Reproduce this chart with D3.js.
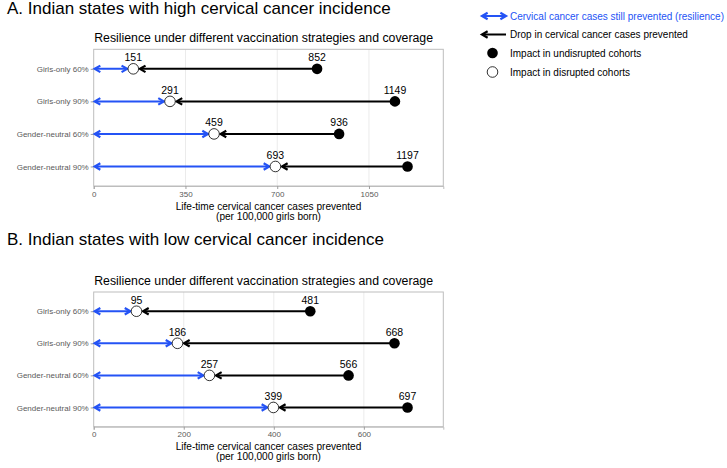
<!DOCTYPE html>
<html><head><meta charset="utf-8">
<script src="https://cdn.jsdelivr.net/npm/d3@7"></script>
<style>body{margin:0;background:#fff;} svg{display:block;font-family:"Liberation Sans",Arial,Helvetica,sans-serif;}</style>
</head><body>
<script>
const strategies = ["Girls-only 60%","Girls-only 90%","Gender-neutral 60%","Gender-neutral 90%"];
const highUndisrupted = [852,1149,936,1197];
const highDisrupted = [151,291,459,693];
const lowUndisrupted = [481,668,566,697];
const lowDisrupted = [95,186,257,399];
const highTicks = [0,350,700,1050];
const lowTicks = [0,200,400,600];
const panelTitles = ["A. Indian states with high cervical cancer incidence","B. Indian states with low cervical cancer incidence"];
const subtitle = "Resilience under different vaccination strategies and coverage";
const xTitle = ["Life-time cervical cancer cases prevented","(per 100,000 girls born)"];
const legendLabels = ["Cervical cancer cases still prevented (resilience)","Drop in cervical cancer cases prevented","Impact in undisrupted cohorts","Impact in disrupted cohorts"];

const W=727,H=468, BLUE="#2453f5";
const svg=d3.select("body").append("svg").attr("width",W).attr("height",H);

function chevron(g, tipX, y, dir, color){ // dir: -1 points left, +1 points right
  const L=6.5, a=Math.PI/6;
  const dx=-dir*L*Math.cos(a), dy=L*Math.sin(a);
  g.append("path").attr("d",`M${tipX+dx},${y-dy}L${tipX},${y}L${tipX+dx},${y+dy}`)
   .attr("fill","none").attr("stroke",color).attr("stroke-width",2.2).attr("stroke-linejoin","miter");
}

function panel(titleY, pt, pb, title, und, dis, ticks){
  const g=svg.append("g");
  g.append("text").attr("x",7).attr("y",titleY).attr("font-size",17).attr("fill","#000").text(title);
  const pl=93.7, pr=443.3;
  g.append("text").attr("x",pl+0.5).attr("y",pt-7.5).attr("font-size",12.3).attr("fill","#000").text(subtitle);
  const x=d3.scaleLinear().domain([0,d3.max(und)*1.114]).range([pl,pr]);
  const y=d3.scalePoint().domain(strategies).range([pt,pb]).padding(0.6);
  // grid
  g.append("g").selectAll("line").data(ticks.slice(1)).join("line")
   .attr("x1",d=>x(d)).attr("x2",d=>x(d)).attr("y1",pt).attr("y2",pb)
   .attr("stroke","#ebebeb").attr("stroke-width",1);
  g.append("rect").attr("x",pl).attr("y",pt).attr("width",pr-pl).attr("height",pb-pt)
   .attr("fill","none").attr("stroke","#bdbdbd").attr("stroke-width",1);
  // axes
  const xa=g.append("g").attr("transform",`translate(0,${pb})`)
    .call(d3.axisBottom(x).tickValues(ticks).tickFormat(d3.format("d")).tickSize(3).tickPadding(2));
  xa.select(".domain").attr("stroke","#bdbdbd");
  xa.selectAll(".tick line").attr("stroke","#9e9e9e");
  xa.selectAll("text").attr("font-size",8).attr("fill","#5a5a5a").attr("font-family","Liberation Sans,Arial,sans-serif");
  const ya=g.append("g").attr("transform",`translate(${pl},0)`)
    .call(d3.axisLeft(y).tickSize(3).tickPadding(2));
  ya.select(".domain").remove();
  ya.selectAll(".tick line").attr("stroke","#9e9e9e");
  ya.selectAll("text").attr("font-size",8).attr("fill","#5a5a5a").attr("font-family","Liberation Sans,Arial,sans-serif");
  g.append("text").attr("x",(pl+pr)/2).attr("y",pb+23.5).attr("text-anchor","middle").attr("font-size",10.1).text(xTitle[0]);
  g.append("text").attr("x",(pl+pr)/2).attr("y",pb+33.5).attr("text-anchor","middle").attr("font-size",10.1).text(xTitle[1]);
  const r=5.3, gap=0.8;
  strategies.forEach((s,i)=>{
    const yy=y(s), xd=x(dis[i]), xu=x(und[i]);
    // blue resilience arrow
    const bEnd=xd-r-gap;
    g.append("line").attr("x1",x(0)+1).attr("x2",bEnd-1).attr("y1",yy).attr("y2",yy).attr("stroke",BLUE).attr("stroke-width",2);
    chevron(g,x(0)+1,yy,-1,BLUE);
    chevron(g,bEnd,yy,1,BLUE);
    // black drop arrow
    const kEnd=xd+r+gap+0.5;
    g.append("line").attr("x1",xu).attr("x2",kEnd+1).attr("y1",yy).attr("y2",yy).attr("stroke","#000").attr("stroke-width",2);
    chevron(g,kEnd,yy,-1,"#000");
    g.append("circle").attr("cx",xu).attr("cy",yy).attr("r",r).attr("fill","#000");
    g.append("circle").attr("cx",xd).attr("cy",yy).attr("r",r).attr("fill","#fff").attr("stroke","#000").attr("stroke-width",0.8);
    g.append("text").attr("x",xu).attr("y",yy-7.5).attr("text-anchor","middle").attr("font-size",10.5).text(und[i]);
    g.append("text").attr("x",xd).attr("y",yy-7.5).attr("text-anchor","middle").attr("font-size",10.5).text(dis[i]);
  });
}
panel(13.5, 49.3, 186, panelTitles[0],highUndisrupted,highDisrupted,highTicks);
panel(244.5, 292, 426.7, panelTitles[1],lowUndisrupted,lowDisrupted,lowTicks);

// legend
const lg=svg.append("g");
const lx0=482, lx1=506, tx=510, ly=[16,34.5,53,72];
lg.append("line").attr("x1",lx0+1).attr("x2",lx1-1).attr("y1",ly[0]).attr("y2",ly[0]).attr("stroke",BLUE).attr("stroke-width",2);
chevron(lg,lx0,ly[0],-1,BLUE); chevron(lg,lx1,ly[0],1,BLUE);
lg.append("line").attr("x1",lx0+1).attr("x2",lx1).attr("y1",ly[1]).attr("y2",ly[1]).attr("stroke","#000").attr("stroke-width",2);
chevron(lg,lx0,ly[1],-1,"#000");
lg.append("circle").attr("cx",492.5).attr("cy",ly[2]).attr("r",5.3).attr("fill","#000");
lg.append("circle").attr("cx",492.5).attr("cy",ly[3]).attr("r",5.3).attr("fill","#fff").attr("stroke","#000").attr("stroke-width",0.8);
legendLabels.forEach((t,i)=>{
  lg.append("text").attr("x",tx).attr("y",ly[i]+3.5).attr("font-size",10).attr("fill",i===0?BLUE:"#000").text(t);
});
</script>
</body></html>
